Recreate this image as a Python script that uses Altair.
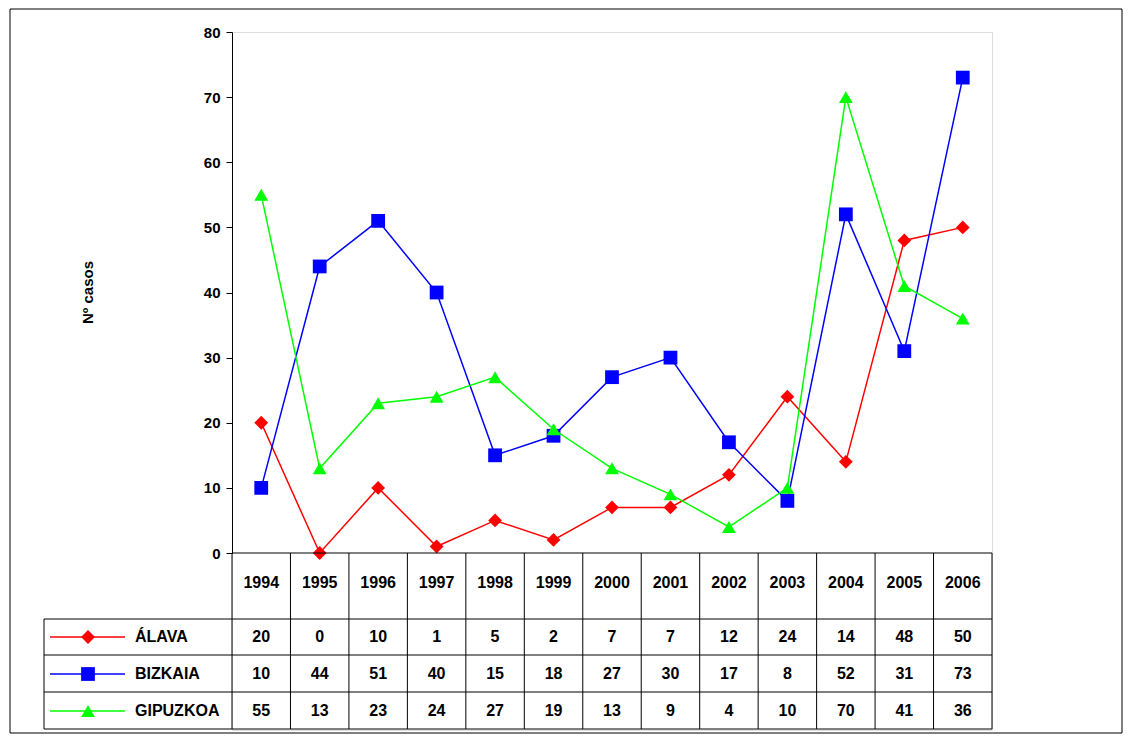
import altair as alt
import pandas as pd

years = [1994,1995,1996,1997,1998,1999,2000,2001,2002,2003,2004,2005,2006]
alava = [20,0,10,1,5,2,7,7,12,24,14,48,50]
bizkaia = [10,44,51,40,15,18,27,30,17,8,52,31,73]
gipuzkoa = [55,13,23,24,27,19,13,9,4,10,70,41,36]
series = ["ÁLAVA","BIZKAIA","GIPUZKOA"]
colors = ["#FF0000","#0000FF","#00FF00"]
shapes = ["diamond","square","triangle-up"]
row_y = [605,642,679]

FONT = "Liberation Sans"
W, H = 760, 698
rows = []
for s, vals in zip(series, [alava, bizkaia, gipuzkoa]):
    for y, v in zip(years, vals):
        rows.append({"year": str(y), "serie": s, "v": v})
df = pd.DataFrame(rows)
yrs = pd.DataFrame({"year": [str(y) for y in years]})

xs = alt.X("year:N", sort=[str(y) for y in years],
           scale=alt.Scale(paddingInner=0, paddingOuter=0), axis=None)
ysc = alt.Scale(domain=[0, 80], range=[521, 0])
yax = alt.Axis(values=list(range(0, 81, 10)), grid=False, domainColor="black", tickColor="black",
               labelFont=FONT, labelFontWeight="bold", labelFontSize=15, labelColor="black",
               titleFont=FONT, titleFontWeight="bold", titleFontSize=15, titleColor="black",
               titleX=-137, titleY=260, labelPadding=6, tickSize=6)
Y = alt.Y("v:Q", scale=ysc, title="Nº casos", axis=yax)

layers = []
for i, s in enumerate(series):
    d = df[df.serie == s]
    base = alt.Chart(d)
    layers.append(base.mark_line(color=colors[i], strokeWidth=1.5).encode(x=xs, y=Y))
    layers.append(base.mark_point(shape=shapes[i], filled=True, color=colors[i], size=190, opacity=1).encode(x=xs, y=Y))
    layers.append(base.mark_text(font=FONT, fontWeight="bold", fontSize=16, color="black").encode(
        x=xs, y=alt.value(row_y[i]), text="v:Q"))
    leg = pd.DataFrame({"serie": [s]})
    lb = alt.Chart(leg)
    layers.append(lb.mark_rule(color=colors[i], strokeWidth=1.5).encode(
        x=alt.value(-182), x2=alt.value(-107), y=alt.value(row_y[i])))
    layers.append(lb.mark_point(shape=shapes[i], filled=True, color=colors[i], size=190, opacity=1).encode(
        x=alt.value(-144), y=alt.value(row_y[i])))
    layers.append(lb.mark_text(font=FONT, fontWeight="bold", fontSize=16, align="left", color="black").encode(
        x=alt.value(-97), y=alt.value(row_y[i]), text="serie:N"))

layers.append(alt.Chart(yrs).mark_text(font=FONT, fontWeight="bold", fontSize=16, color="black").encode(
    x=xs, y=alt.value(551), text="year:N"))
layers.append(alt.Chart(yrs).mark_rule(color="black").encode(
    x=alt.X("year:N", sort=[str(y) for y in years], bandPosition=0,
            scale=alt.Scale(paddingInner=0, paddingOuter=0), axis=None),
    y=alt.value(521), y2=alt.value(697)))
one = alt.Chart(pd.DataFrame({"a": [0]}))
layers.append(one.mark_rule(color="black").encode(x=alt.value(W), y=alt.value(521), y2=alt.value(697)))
layers.append(one.mark_rule(color="black").encode(x=alt.value(-188), y=alt.value(587), y2=alt.value(697)))
layers.append(one.mark_rule(color="black").encode(x=alt.value(0), x2=alt.value(W), y=alt.value(521)))
for yy in [587, 623, 660, 697]:
    layers.append(one.mark_rule(color="black").encode(x=alt.value(-188), x2=alt.value(W), y=alt.value(yy)))
layers.append(one.mark_rect(fill=None, stroke="black", strokeWidth=1).encode(
    x=alt.value(-222), x2=alt.value(890), y=alt.value(-23), y2=alt.value(701)))

chart = alt.layer(*layers).properties(
    width=W, height=H, autosize="none",
    padding={"left": 224, "top": 24, "right": 132, "bottom": 4}
).configure_view(stroke="transparent", strokeWidth=0).configure(background="white")
chart.save("out.html", embed_options={"renderer": "svg", "actions": False})
